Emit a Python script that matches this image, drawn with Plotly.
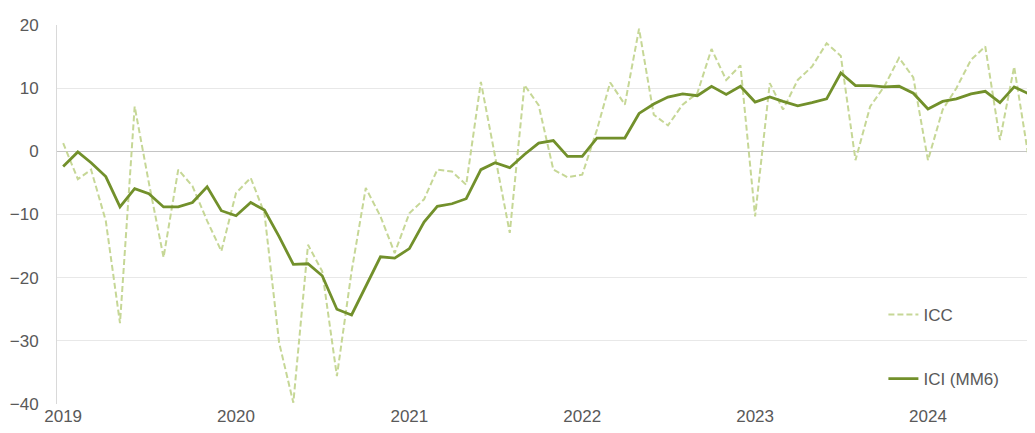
import pandas as pd
import plotly.graph_objects as go

# ── Data: monthly, Jan 2019 .. Sep 2024 ─────────────────────────────────────
months = pd.date_range("2019-01-01", "2024-09-01", freq="MS")

icc = [
    1.3, -4.4, -2.9, -11.0, -27.2, 7.1, -5.0, -16.8, -2.9, -5.5, -11.0, -15.8,      # 2019
    -6.6, -4.2, -9.8, -30.3, -39.8, -14.8, -19.0, -35.6, -19.0, -5.8, -10.3, -16.1,  # 2020
    -9.8, -7.6, -2.9, -3.2, -5.3, 11.0, -0.8, -12.9, 10.5, 7.3, -2.9, -4.1,          # 2021
    -3.7, 3.4, 10.9, 7.4, 19.4, 5.8, 4.1, 7.4, 9.2, 16.2, 11.3, 13.6,                # 2022
    -10.3, 10.8, 6.6, 11.3, 13.4, 17.1, 15.1, -1.4, 7.1, 10.3, 14.8, 11.7,           # 2023
    -1.4, 6.6, 10.0, 14.5, 16.6, 1.8, 13.4, -1.2, 11.0,                              # 2024
]

ici_mm6 = [
    -2.4, -0.1, -1.8, -4.0, -8.8, -5.9, -6.7, -8.8, -8.8, -8.1, -5.6, -9.4,          # 2019
    -10.2, -8.1, -9.3, -13.5, -17.9, -17.8, -19.7, -25.0, -25.9, -21.4, -16.7, -16.9,  # 2020
    -15.4, -11.2, -8.7, -8.3, -7.5, -2.9, -1.8, -2.6, -0.5, 1.3, 1.7, -0.8,          # 2021
    -0.8, 2.1, 2.1, 2.1, 6.0, 7.5, 8.6, 9.1, 8.8, 10.3, 9.0, 10.3,                   # 2022
    7.8, 8.6, 7.9, 7.2, 7.7, 8.3, 12.4, 10.4, 10.4, 10.2, 10.3, 9.2,                 # 2023
    6.7, 7.9, 8.3, 9.1, 9.5, 7.7, 10.2, 9.1, 9.1,                                    # 2024
]

# ── Style ────────────────────────────────────────────────────────────────────
OLIVE = "#72902B"
LIGHT = "#C6D796"
GRID = "#E8E8E8"
TEXT = "#595959"
FONT = "Liberation Sans, Arial, sans-serif"

fig = go.Figure()
fig.add_trace(go.Scatter(
    x=months, y=icc, name="ICC", mode="lines",
    line=dict(color=LIGHT, width=2, dash="6px,3px"),
    legend="legend",
))
fig.add_trace(go.Scatter(
    x=months, y=ici_mm6, name="ICI (MM6)", mode="lines",
    line=dict(color=OLIVE, width=2.8),
    legend="legend2",
))

legend_style = dict(
    x=0.845, xanchor="left", yanchor="middle",
    bgcolor="rgba(0,0,0,0)", borderwidth=0,
    font=dict(family=FONT, size=17, color=TEXT),
)

# page body keeps its default 8px margin -> figure is 8px smaller, margins shifted
fig.update_layout(
    width=1027, height=425,
    margin=dict(l=49, r=0, t=17, b=29),
    paper_bgcolor="white", plot_bgcolor="white",
    font=dict(family=FONT, size=17, color=TEXT),
    showlegend=True,
    legend=dict(y=0.235, **legend_style),
    legend2=dict(y=0.066, **legend_style),
    xaxis=dict(
        type="date",
        range=["2018-12-19", "2024-08-14"],
        dtick="M12", tick0="2019-01-01", tickformat="%Y",
        showgrid=False, zeroline=False, showline=False,
        ticks="", automargin=False,
    ),
    yaxis=dict(
        range=[-40, 20], dtick=10,
        showgrid=True, gridcolor=GRID, gridwidth=1,
        zeroline=True, zerolinecolor="#C4C4C4", zerolinewidth=1,
        showline=True, linecolor="#D9D9D9", linewidth=1,
        ticks="", ticklabelstandoff=14, automargin=False,
    ),
)

fig.write_html("out.html")
